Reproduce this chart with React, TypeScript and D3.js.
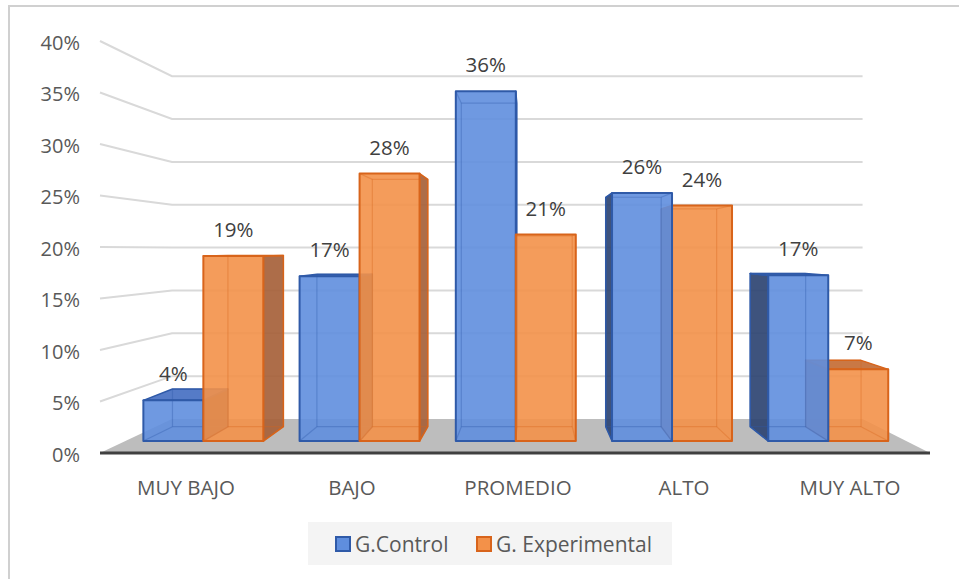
import * as React from 'react';
import * as d3 from 'd3';

// chart values (percent)
const categories = ['MUY BAJO', 'BAJO', 'PROMEDIO', 'ALTO', 'MUY ALTO'];
const controlValues = [4.2, 17.0, 36.1, 25.6, 17.1];
const experimentalValues = [19.1, 27.6, 21.3, 24.3, 7.4];
const seriesNames = ['G.Control', 'G. Experimental'];
const yTicks = [0, 5, 10, 15, 20, 25, 30, 35, 40];

const W = 959;
const H = 579;

// one point perspective: front plane coords -> screen
const VP = { x: 528.6, y: 250.5 };
const K = 0.2019; // depth factor so the back wall is at scale 0.832
const Z_FRONT = 0.31;
const Z_BACK = 0.74;

const P = (xf: number, yf: number, z: number): [number, number] => {
  const s = 1 / (1 + K * z);
  return [VP.x + (xf - VP.x) * s, VP.y + (yf - VP.y) * s];
};

const pts = (a: [number, number][]) => a.map((p) => p.join(',')).join(' ');

const palette = [
  { front: '#5f8ede', side: '#2e4472', top: '#4770c2', stroke: '#2f5aa8' },
  { front: '#f39149', side: '#a6613a', top: '#c46d35', stroke: '#d8641b' },
];

export default function App() {
  const x0 = d3.scaleBand<string>().domain(categories).range([100, 930]).padding(0);
  const x1 = d3
    .scaleBand<number>()
    .domain([0, 1])
    .range([0, x0.bandwidth()])
    .paddingInner(0)
    .paddingOuter(0.302);
  const y = d3.scaleLinear().domain([0, 40]).range([453, 41]);

  const bars: any[] = [];
  categories.forEach((c, i) => {
    [controlValues[i], experimentalValues[i]].forEach((v, si) => {
      const xa = (x0(c) as number) + (x1(si) as number);
      const xb = xa + x1.bandwidth();
      bars.push({ c, si, v, xa, xb });
    });
  });
  // far from the vanishing point first
  bars.sort((a, b) => Math.abs((b.xa + b.xb) / 2 - VP.x) - Math.abs((a.xa + a.xb) / 2 - VP.x));

  const yb = y(0);

  return (
    <div style={{ position: 'absolute', left: 0, top: 0 }}>
      <svg width={W} height={H} style={{ display: 'block', background: '#fff' }}
        fontFamily="'Open Sans', 'Noto Sans', sans-serif">
        <rect x={9} y={6} width={W + 10} height={H + 10} fill="#fff" stroke="#d0d0d0" strokeWidth={2} />

        {/* walls gridlines */}
        {yTicks.filter((t) => t > 0).map((t) => {
          const a = P(100, y(t), 0);
          const b = P(100, y(t), 1);
          const c = P(930, y(t), 1);
          return (
            <polyline key={t} points={pts([a, b, c])} fill="none" stroke="#d9d9d9" strokeWidth={2} />
          );
        })}

        {/* floor */}
        <polygon points={pts([P(100, yb, 0), P(930, yb, 0), P(930, yb, 1), P(100, yb, 1)])} fill="#bdbdbd" />
        <line x1={100} x2={930} y1={yb} y2={yb} stroke="#404040" strokeWidth={3} />

        {/* y axis labels */}
        {yTicks.map((t) => (
          <text key={t} x={80} y={y(t) + 1} textAnchor="end" dominantBaseline="central"
            fontSize={20} fill="#595959">{t}%</text>
        ))}

        {/* bars */}
        {bars.map((b) => {
          const col = palette[b.si];
          const yt = y(b.v);
          const f00 = P(b.xa, yb, Z_FRONT), f10 = P(b.xb, yb, Z_FRONT);
          const f11 = P(b.xb, yt, Z_FRONT), f01 = P(b.xa, yt, Z_FRONT);
          const b00 = P(b.xa, yb, Z_BACK), b10 = P(b.xb, yb, Z_BACK);
          const b11 = P(b.xb, yt, Z_BACK), b01 = P(b.xa, yt, Z_BACK);
          const showRight = b.xb < VP.x;
          const showLeft = b.xa > VP.x;
          const showTop = yt > VP.y;
          const hidden: [number, number][][] = [
            [b00, b10], [b10, b11], [b11, b01], [b01, b00],
            [f00, b00], [f10, b10],
          ];
          if (!showTop) hidden.push([f01, b01], [f11, b11]);
          return (
            <g key={b.c + b.si}>
              {showRight && (
                <polygon points={pts([f10, f11, b11, b10])} fill={col.side} fillOpacity={0.92}
                  stroke={col.stroke} strokeWidth={1.5} strokeLinejoin="round" />
              )}
              {showLeft && (
                <polygon points={pts([f00, f01, b01, b00])} fill={col.side} fillOpacity={0.92}
                  stroke={col.stroke} strokeWidth={1.5} strokeLinejoin="round" />
              )}
              {showTop && (
                <polygon points={pts([f01, f11, b11, b01])} fill={col.top} fillOpacity={0.92}
                  stroke={col.stroke} strokeWidth={1.5} strokeLinejoin="round" />
              )}
              <polygon points={pts([f00, f10, f11, f01])} fill={col.front} fillOpacity={0.9}
                stroke={col.stroke} strokeWidth={2} strokeLinejoin="round" />
              {hidden.map((e, k) => (
                <line key={k} x1={e[0][0]} y1={e[0][1]} x2={e[1][0]} y2={e[1][1]}
                  stroke={col.stroke} strokeOpacity={0.35} strokeWidth={1.2} />
              ))}
            </g>
          );
        })}

        {/* data labels */}
        {bars.map((b) => {
          const p = P((b.xa + b.xb) / 2, y(b.v), Z_FRONT);
          return (
            <text key={'l' + b.c + b.si} x={p[0]} y={p[1] - 19} textAnchor="middle"
              fontSize={20.5} fill="#404040">{Math.round(b.v)}%</text>
          );
        })}

        {/* category labels */}
        {categories.map((c) => (
          <text key={c} x={(x0(c) as number) + x0.bandwidth() / 2 + 3} y={487} textAnchor="middle"
            dominantBaseline="central" fontSize={20.5} fill="#595959">{c}</text>
        ))}

        {/* legend */}
        <rect x={308} y={522} width={364} height={43} fill="#f4f4f4" />
        {seriesNames.map((n, i) => {
          const lx = i === 0 ? 336 : 477;
          return (
            <g key={n}>
              <rect x={lx} y={537} width={14} height={14} fill={palette[i].front}
                stroke={palette[i].stroke} strokeWidth={2} />
              <text x={lx + 19} y={544} dominantBaseline="central" fontSize={21} fill="#595959">{n}</text>
            </g>
          );
        })}
      </svg>
    </div>
  );
}
